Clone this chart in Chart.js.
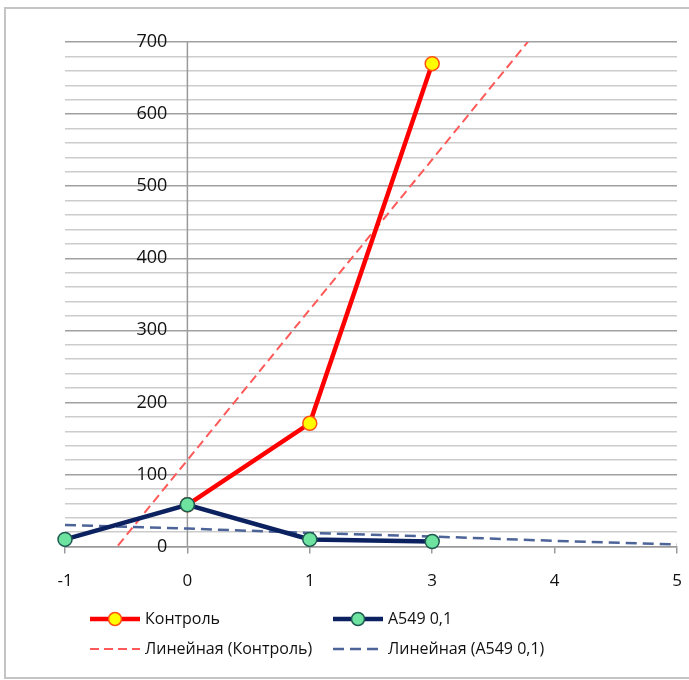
<!DOCTYPE html>
<html>
<head>
<meta charset="utf-8">
<script src="https://cdn.jsdelivr.net/npm/chart.js@4"></script>
<style>
  html, body { margin: 0; padding: 0; background: #fff; }
</style>
</head>
<body>
<canvas id="myChart" width="689" height="680"></canvas>
<script>
// data
const categories = ['-1', '0', '1', '3', '4', '5'];
const control = [null, 58, 171, 670, null, null];
const a549 = [10, 58, 10, 7, null, null];
const controlTrend = [-89, 120, 329, 537, 746, 955];
const a549Trend = [30, 25, 19, 14, 8, 3];
const yLabels = [0, 100, 200, 300, 400, 500, 600, 700];

const FONT = 'Open Sans';
const ctx = document.getElementById('myChart').getContext('2d');

const data = {
  labels: categories,
  datasets: [
    {
      label: 'A549 0,1',
      data: a549,
      borderColor: '#0c2260',
      borderWidth: 4.5,
      pointRadius: 7,
      pointBackgroundColor: '#6ee3a0',
      pointBorderColor: '#1f5a52',
      pointBorderWidth: 1.5,
      clip: false,
      order: 0
    },
    {
      label: 'Контроль',
      data: control,
      borderColor: '#ff0000',
      borderWidth: 4.5,
      pointRadius: 7,
      pointBackgroundColor: '#ffff00',
      pointBorderColor: '#ff5010',
      pointBorderWidth: 1.5,
      clip: false,
      order: 1
    },
    {
      label: 'Линейная (Контроль)',
      data: controlTrend,
      borderColor: '#ff5a5a',
      borderWidth: 2,
      borderDash: [9, 5],
      pointRadius: 0,
      order: 2
    },
    {
      label: 'Линейная (A549 0,1)',
      data: a549Trend,
      borderColor: '#4d6499',
      borderWidth: 2.5,
      borderDash: [11, 6],
      pointRadius: 0,
      order: 3
    }
  ]
};

// y labels sit next to the vertical axis at x = 0
const axisAtZero = {
  id: 'axisAtZero',
  beforeDatasetsDraw(chart) {
    const {ctx, chartArea: {top, bottom}, scales: {x, y}} = chart;
    const ax = x.getPixelForValue(1);
    ctx.save();
    ctx.strokeStyle = '#9a9a9a';
    ctx.lineWidth = 1.5;
    ctx.beginPath();
    ctx.moveTo(ax, top);
    ctx.lineTo(ax, bottom);
    ctx.stroke();
    ctx.fillStyle = '#111';
    ctx.font = '18px "' + FONT + '"';
    ctx.textAlign = 'right';
    ctx.textBaseline = 'middle';
    yLabels.forEach(v => {
      ctx.fillText(String(v), ax - 20, y.getPixelForValue(v));
    });
    ctx.restore();
  }
};

// legend in two columns like the original
const legendBox = {
  id: 'legendBox',
  afterDraw(chart) {
    const {ctx} = chart;
    const cols = [90, 333];
    const rows = [619, 649];
    const order = [1, 0, 2, 3];
    ctx.save();
    ctx.font = '16px "' + FONT + '"';
    ctx.textBaseline = 'middle';
    ctx.fillStyle = '#111';
    order.forEach((di, i) => {
      const ds = chart.data.datasets[di];
      const x0 = cols[i % 2];
      const yy = rows[Math.floor(i / 2)];
      const len = 50;
      ctx.save();
      ctx.strokeStyle = ds.borderColor;
      ctx.lineWidth = ds.borderWidth;
      ctx.setLineDash(ds.borderDash || []);
      ctx.beginPath();
      ctx.moveTo(x0, yy);
      ctx.lineTo(x0 + len, yy);
      ctx.stroke();
      ctx.setLineDash([]);
      if (ds.pointRadius > 0) {
        ctx.beginPath();
        ctx.arc(x0 + len / 2, yy, 6.5, 0, Math.PI * 2);
        ctx.fillStyle = ds.pointBackgroundColor;
        ctx.fill();
        ctx.lineWidth = ds.pointBorderWidth;
        ctx.strokeStyle = ds.pointBorderColor;
        ctx.stroke();
      }
      ctx.restore();
      ctx.fillText(ds.label, x0 + len + 5, yy);
    });
    ctx.restore();
  }
};

// outer frame of the sheet
const frame = {
  id: 'frame',
  afterDraw(chart) {
    const {ctx} = chart;
    ctx.save();
    ctx.strokeStyle = '#c4c4c4';
    ctx.lineWidth = 2;
    ctx.beginPath();
    ctx.moveTo(689, 8);
    ctx.lineTo(5, 8);
    ctx.lineTo(5, 678);
    ctx.lineTo(689, 678);
    ctx.stroke();
    ctx.restore();
  }
};

const config = {
  type: 'line',
  data: data,
  options: {
    responsive: false,
    animation: false,
    layout: {
      padding: {left: 65, right: 12, top: 42, bottom: 72}
    },
    plugins: {
      legend: {display: false},
      tooltip: {enabled: false}
    },
    scales: {
      x: {
        offset: false,
        // don't let the last label push the plot area in
        afterFit(scale) {
          scale.paddingLeft = 0;
          scale.paddingRight = 0;
        },
        grid: {drawOnChartArea: false, drawTicks: true, tickLength: 7, color: '#9a9a9a', lineWidth: 1.5},
        border: {display: true, color: '#9a9a9a', width: 1.5},
        ticks: {
          font: {family: FONT, size: 17},
          color: '#111',
          padding: 17,
          maxRotation: 0,
          autoSkip: false
        }
      },
      y: {
        min: 0,
        max: 700,
        ticks: {stepSize: 20, display: false},
        border: {display: false},
        grid: {
          drawTicks: false,
          lineWidth: 1.5,
          color: c => (c.tick && c.tick.value % 100 === 0) ? '#a0a0a0' : '#cccccc'
        }
      }
    }
  },
  plugins: [axisAtZero, legendBox, frame]
};

const myChart = new Chart(ctx, config);
</script>
</body>
</html>
